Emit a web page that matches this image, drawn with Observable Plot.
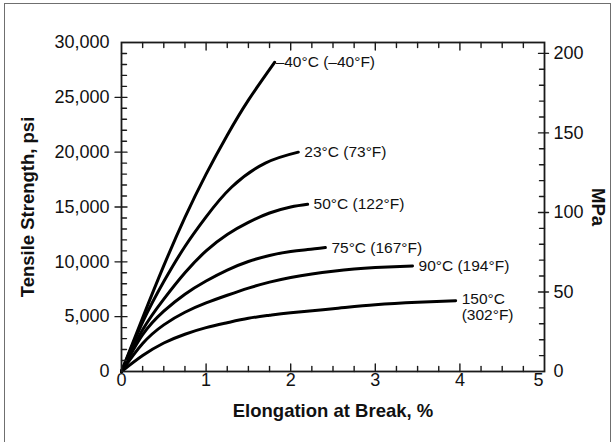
<!DOCTYPE html>
<html>
<head>
<meta charset="utf-8">
<script src="https://cdn.jsdelivr.net/npm/d3@7"></script>
<script src="https://cdn.jsdelivr.net/npm/@observablehq/plot@0.6"></script>
<style>
  html, body { margin: 0; padding: 0; background: #fff; }
  #wrap { position: relative; width: 615px; height: 442px; overflow: hidden; background: #fff; }
  #border { position: absolute; left: 4px; top: 3px; width: 605px; height: 460px;
            border-left: 1.5px solid #6f6f6f; border-top: 1.5px solid #6f6f6f; border-right: 1.5px solid #6f6f6f; pointer-events: none; }
  svg { display: block; }
</style>
</head>
<body>
<div id="wrap"><div id="border"></div></div>
<script>
// ---- data ----
const seriesLabels = ["–40°C (–40°F)", "23°C (73°F)", "50°C (122°F)", "75°C (167°F)", "90°C (194°F)", "150°C\n(302°F)"];

const elongM40 = [0, 0.25, 0.5, 0.75, 1.0, 1.25, 1.5, 1.81];
const psiM40   = [0, 4900, 9650, 14050, 18000, 21550, 24750, 28200];

const elong23 = [0, 0.25, 0.5, 0.75, 1.0, 1.3, 1.7, 2.09];
const psi23   = [0, 4500, 8200, 11400, 14100, 16800, 19000, 20000];

const elong50 = [0, 0.25, 0.5, 0.75, 1.0, 1.25, 1.5, 1.75, 2.0, 2.2];
const psi50   = [0, 3800, 6600, 9000, 11000, 12500, 13600, 14450, 15000, 15250];

const elong75 = [0, 0.25, 0.5, 0.75, 1.0, 1.25, 1.5, 1.75, 2.0, 2.2, 2.41];
const psi75   = [0, 3350, 5500, 7050, 8250, 9250, 10030, 10580, 10950, 11120, 11300];

const elong90 = [0, 0.25, 0.5, 0.75, 1.0, 1.25, 1.5, 1.75, 2.0, 2.25, 2.5, 2.75, 3.0, 3.44];
const psi90   = [0, 2550, 4250, 5400, 6250, 6950, 7600, 8150, 8580, 8900, 9150, 9350, 9480, 9620];

const elong150 = [0, 0.25, 0.5, 0.75, 1.0, 1.25, 1.5, 1.75, 2.0, 2.5, 3.0, 3.5, 3.95];
const psi150   = [0, 1450, 2600, 3400, 4000, 4450, 4850, 5130, 5360, 5720, 6080, 6310, 6450];

// axis ticks
const xTickLabels = [0, 1, 2, 3, 4];
const xLastLabel = [5];
const xMinorTicks = [0.25, 0.5, 0.75, 1.25, 1.5, 1.75, 2.25, 2.5, 2.75, 3.25, 3.5, 3.75, 4.25, 4.5, 4.75];
const xMajorTicks = [1, 2, 3, 4];
const psiTickLabels = [0, 5000, 10000, 15000, 20000, 25000, 30000];
const psiMajorTicks = [5000, 10000, 15000, 20000, 25000];
const psiMinorTicks = [1000, 2000, 3000, 4000, 6000, 7000, 8000, 9000, 11000, 12000, 13000, 14000,
                       16000, 17000, 18000, 19000, 21000, 22000, 23000, 24000, 26000, 27000, 28000, 29000];
const mpaTickLabels = [0, 50, 100, 150, 200];
const mpaMajorTicks = [50, 100, 150, 200];
const mpaMinorTicks = [10, 20, 30, 40, 60, 70, 80, 90, 110, 120, 130, 140, 160, 170, 180, 190];
const PSI_PER_MPA = 145.0377;

// ---- build table ----
const xs = [elongM40, elong23, elong50, elong75, elong90, elong150];
const ys = [psiM40, psi23, psi50, psi75, psi90, psi150];
const rows = [];
xs.forEach((arr, s) => arr.forEach((x, i) => rows.push({series: seriesLabels[s], x, psi: ys[s][i]})));
const ends = xs.map((arr, s) => ({series: seriesLabels[s], x: arr[arr.length - 1], psi: ys[s][ys[s].length - 1], idx: s}));

// tick shape (direction set by rotate)
const tick = {draw(context, l) { context.moveTo(0, 0); context.lineTo(0, l); }};
const tickStyle = {anchor: "start", shape: tick, stroke: "#1a1a1a", strokeWidth: 1.4};

const FONT = "'Liberation Sans', Arial, Helvetica, sans-serif";

const chart = Plot.plot({
  width: 615,
  height: 442,
  marginLeft: 121,
  marginRight: 71,
  marginTop: 42,
  marginBottom: 71,
  style: {fontFamily: FONT, fontSize: "18px", color: "#111", background: "transparent"},
  x: {domain: [0, 5]},
  y: {domain: [0, 30000]},
  marks: [
    // curves
    Plot.line(rows, {x: "x", y: "psi", z: "series", curve: "natural", stroke: "#000", strokeWidth: 3}),
    // curve labels
    Plot.text(ends.filter(d => d.idx === 0), {x: "x", y: "psi", text: "series", textAnchor: "start", dx: 1, fontSize: 15.5, fill: "#111"}),
    Plot.text(ends.filter(d => d.idx > 0 && d.idx < 5), {x: "x", y: "psi", text: "series", textAnchor: "start", dx: 6, fontSize: 15.5, fill: "#111"}),
    Plot.text(ends.filter(d => d.idx === 5), {x: "x", y: "psi", text: "series", textAnchor: "start", lineAnchor: "top", dx: 6, dy: -8, lineHeight: 1.03, fontSize: 15.5, fill: "#111"}),
    // bottom ticks (inward)
    Plot.vector(xMinorTicks, {x: d => d, y: () => 0, length: 5, rotate: 180, ...tickStyle}),
    Plot.vector(xMajorTicks, {x: d => d, y: () => 0, length: 7.5, rotate: 180, ...tickStyle}),
    // top ticks (inward)
    Plot.vector(xMinorTicks, {x: d => d, y: () => 30000, length: 5, rotate: 0, ...tickStyle}),
    Plot.vector(xMajorTicks, {x: d => d, y: () => 30000, length: 7.5, rotate: 0, ...tickStyle}),
    // left ticks
    Plot.vector(psiMinorTicks, {x: () => 0, y: d => d, length: 5, rotate: -90, ...tickStyle}),
    Plot.vector(psiMajorTicks, {x: () => 0, y: d => d, length: 5.5, rotate: -90, ...tickStyle}),
    Plot.vector(psiMajorTicks, {x: () => 0, y: d => d, length: 6.5, rotate: 90, ...tickStyle}),
    // right ticks (MPa)
    Plot.vector(mpaMinorTicks, {x: () => 5, y: d => d * PSI_PER_MPA, length: 5, rotate: 90, ...tickStyle}),
    Plot.vector(mpaMajorTicks, {x: () => 5, y: d => d * PSI_PER_MPA, length: 6, rotate: 90, ...tickStyle}),
    Plot.vector(mpaMajorTicks, {x: () => 5, y: d => d * PSI_PER_MPA, length: 4, rotate: -90, ...tickStyle}),
    // axes labels
    Plot.axisX(xTickLabels, {anchor: "bottom", tickSize: 0, tickPadding: 2, label: null, fontSize: 18}),
    Plot.axisX(xLastLabel, {anchor: "bottom", tickSize: 0, tickPadding: 2, label: null, fontSize: 18, dx: -6}),
    Plot.axisY(psiTickLabels, {anchor: "left", tickSize: 0, tickPadding: 12, label: null, tickFormat: d3.format(","), fontSize: 18}),
    Plot.axisY(mpaTickLabels.map(m => m * PSI_PER_MPA), {anchor: "right", tickSize: 0, tickPadding: 9, label: null,
      tickFormat: d => String(Math.round(d / PSI_PER_MPA)), fontSize: 18}),
    // axis titles
    Plot.text(["Elongation at Break, %"], {frameAnchor: "bottom", textAnchor: "middle", lineAnchor: "middle", dy: 40, fontSize: 18.5, fontWeight: "bold", fill: "#111"}),
    Plot.text(["Tensile Strength, psi"], {frameAnchor: "left", textAnchor: "middle", lineAnchor: "middle", dx: -93, rotate: -90, fontSize: 18.5, fontWeight: "bold", fill: "#111"}),
    Plot.text(["MPa"], {frameAnchor: "right", textAnchor: "middle", lineAnchor: "middle", dx: 53, rotate: 90, fontSize: 18.5, fontWeight: "bold", fill: "#111"}),
    // frame
    Plot.frame({stroke: "#1a1a1a", strokeWidth: 1.8})
  ]
});
document.getElementById("wrap").prepend(chart);
</script>
</body>
</html>
